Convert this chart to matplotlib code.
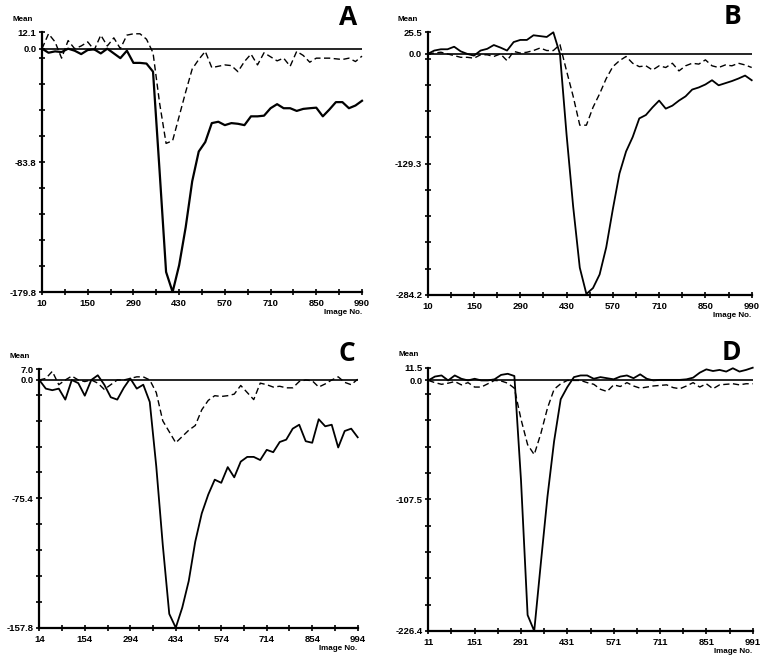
import numpy as np
import matplotlib
matplotlib.use("Agg")
import matplotlib.pyplot as plt
from matplotlib.ticker import FixedLocator, FixedFormatter, NullFormatter

plt.rcParams['font.family'] = ['Liberation Sans', 'DejaVu Sans']

# ---------------- data ----------------
# Panel A
a_x0 = 10
a_solid = [0, -3, -2, -2.5, 0, -1.5, -4, -1, -0.5, -3.5, 0, -3.5, -7, -1.5, -10.5,
           -10.5, -11, -17, -90, -165, -179.8, -160, -132, -98, -76, -69, -55, -54,
           -56.5, -55, -55.5, -56.5, -50, -50, -49.5, -44, -41, -44, -44, -46, -44.5,
           -44, -43.6, -50, -45, -39.5, -39.5, -44, -42, -38.5]
a_dash = [0, 11, 5, -7, 6, 0, 2, 5, -1, 10, 2, 8, 0, 10, 11, 11, 7, -3, -40, -70,
          -68, -50, -32, -15, -8, -2, -14, -13, -12, -12.5, -17, -9.5, -4, -12, -3,
          -6, -9, -7, -13, -2, -5, -10, -7, -7, -7, -7.5, -8, -7, -9.5, -5.5]
a_ylim = (-179.8, 12.1)
a_ylabels = ["12.1", "0.0", "-83.8", "-179.8"]

# Panel B
b_x0 = 10
b_solid = [0, 4, 5.5, 5.5, 8.5, 3, 0, -2, 4, 6, 10.5, 7.5, 4, 14, 16.5, 16.5, 22, 21,
           20, 25.5, 0, -95, -180, -252, -283, -276, -260, -228, -183, -141, -115,
           -98, -76, -72, -63, -55, -64.5, -61, -55, -50, -42, -39.5, -36, -31, -37,
           -34.5, -32, -29, -25.5, -31]
b_dash = [0, 1, 2, 0, -2, -4, -4, -5, -1, -1, -3, 0, -8, 3, 1, 2, 4, 7, 4, 4, 11,
          -20, -50, -84, -84, -63, -47, -29, -15, -8, -3, -11, -15, -14, -19, -14,
          -16, -11, -20, -14, -11, -12, -7, -14, -16, -13, -14, -11, -13, -16]
b_ylim = (-284.2, 25.5)
b_ylabels = ["25.5", "0.0", "-129.3", "-284.2"]

# Panel C
c_x0 = 14
c_solid = [0, -5.5, -6.5, -5.5, -12.5, 0, -2, -10, 0, 3, -3, -11, -12.5, -5, 1, -5.5,
           -3, -14, -55, -105, -149, -157.8, -145, -128, -103, -85, -73, -63.5,
           -65.5, -55.5, -62, -52, -49, -49, -51, -44.5, -46, -39.5, -38, -31, -28.5,
           -39, -40, -25, -29.5, -28.5, -43, -32.5, -31, -36.5]
c_dash = [0, 1, 5.5, -3, 0, 2.5, 0, -1, 0, -2, -6, -3, 0, 0, 1, 2, 2, 0, -8, -26,
          -33, -40, -36, -32, -29, -19, -13, -10, -10.5, -10, -9, -3.5, -8, -12.5,
          -2, -3, -4.5, -4, -5, -5, -1, 0, -0.5, -4.5, -2.5, 0, 2, -1.5, -3, 0.5]
c_ylim = (-157.8, 7.0)
c_ylabels = ["7.0", "0.0", "-75.4", "-157.8"]

# Panel D
d_x0 = 11
d_solid = [0, 3.5, 4.5, 0, 4.5, 1.5, 0, 1.5, 0, 0, 1, 5, 6, 4, -90, -212, -226.4,
           -165, -105, -55, -17, -6, 3, 4.5, 4.5, 1.5, 3, 2, 1, 3.5, 4.5, 2, 5.5,
           1.5, 0, 0.5, 0.5, 0.5, 0.5, 1, 2.5, 7, 10, 8.5, 9.5, 8, 11, 8, 9.5, 11.5]
d_dash = [0, -2, -3.5, -2.5, -1, -4, -2, -6, -6, -3, 0, -0.5, -2.5, -7, -35, -58,
          -67, -48, -25, -8, -3, 0, 0, 0, -2, -3.5, -8, -10, -4, -5.5, -2, -5, -7,
          -6, -5, -4.5, -4, -6.5, -7.5, -5, -2, -6, -3, -7.5, -4, -3.5, -3, -4, -3, -3]
d_ylim = (-226.4, 11.5)
d_ylabels = ["11.5", "0.0", "-107.5", "-226.4"]

panel_letters = ["A", "B", "C", "D"]
x_step = 20
x_span = 980

# ---------------- figure ----------------
W, H = 760, 659
fig = plt.figure(figsize=(W / 100, H / 100), dpi=100)

def frac(left, top, right, bottom):
    return [left / W, 1 - bottom / H, (right - left) / W, (bottom - top) / H]

rects = [frac(42, 32.3, 362, 292),
         frac(427.7, 32.3, 751.7, 295),
         frac(39.3, 369, 357.7, 627.7),
         frac(428.3, 367.7, 752.7, 631)]
letter_pos = [(348, 25), (733, 24.5), (347, 361), (731, 360.5)]

panels = [(a_x0, a_solid, a_dash, a_ylim, a_ylabels),
          (b_x0, b_solid, b_dash, b_ylim, b_ylabels),
          (c_x0, c_solid, c_dash, c_ylim, c_ylabels),
          (d_x0, d_solid, d_dash, d_ylim, d_ylabels)]

for i, (x0, solid, dash, ylim, ylabels) in enumerate(panels):
    ax = fig.add_axes(rects[i])
    x = x0 + x_step * np.arange(len(solid))
    ax.plot(x, dash, color='black', lw=1.0, ls=(0, (4.5, 2.5)), clip_on=False, zorder=3)
    ax.plot(x, solid, color='black', lw=1.3 if i != 0 else 1.6, clip_on=False, zorder=4)
    ax.axhline(0, color='black', lw=1.2, zorder=2)
    ax.set_xlim(x0, x0 + x_span)
    ax.set_ylim(*ylim)
    for s in ['top', 'right']:
        ax.spines[s].set_visible(False)
    for s in ['left', 'bottom']:
        ax.spines[s].set_linewidth(1.6)
    ymin, ymax = ylim
    mid = (ymin + ymax) / 2
    ax.yaxis.set_major_locator(FixedLocator([ymax, 0, mid, ymin]))
    ax.yaxis.set_major_formatter(FixedFormatter(ylabels))
    ax.yaxis.set_minor_locator(FixedLocator(np.linspace(ymin, ymax, 11)))
    ax.yaxis.set_minor_formatter(NullFormatter())
    xmaj = x0 + 140 * np.arange(8)
    ax.xaxis.set_major_locator(FixedLocator(xmaj))
    ax.xaxis.set_major_formatter(FixedFormatter([str(v) for v in xmaj]))
    ax.xaxis.set_minor_locator(FixedLocator(x0 + 70 + 140 * np.arange(7)))
    ax.tick_params(which='both', direction='inout', length=5, width=1.2,
                   labelsize=6.8, pad=1.5)
    ax.tick_params(axis='x', which='both', pad=2.5)
    for lab in ax.get_xticklabels() + ax.get_yticklabels():
        lab.set_fontweight('bold')
    ax.text(-0.03, 1.035, "Mean", transform=ax.transAxes, ha='right', va='bottom',
            fontsize=5.8, fontweight='bold')
    ax.text(1.0, -0.065, "Image No.", transform=ax.transAxes, ha='right', va='top',
            fontsize=5.8, fontweight='bold')
    lx, ly = letter_pos[i]
    fig.text(lx / W, 1 - ly / H, panel_letters[i], ha='center', va='baseline',
             fontsize=19, fontweight='bold', family=['Open Sans', 'DejaVu Sans'])

fig.savefig("out.png", dpi=100, facecolor='white')
